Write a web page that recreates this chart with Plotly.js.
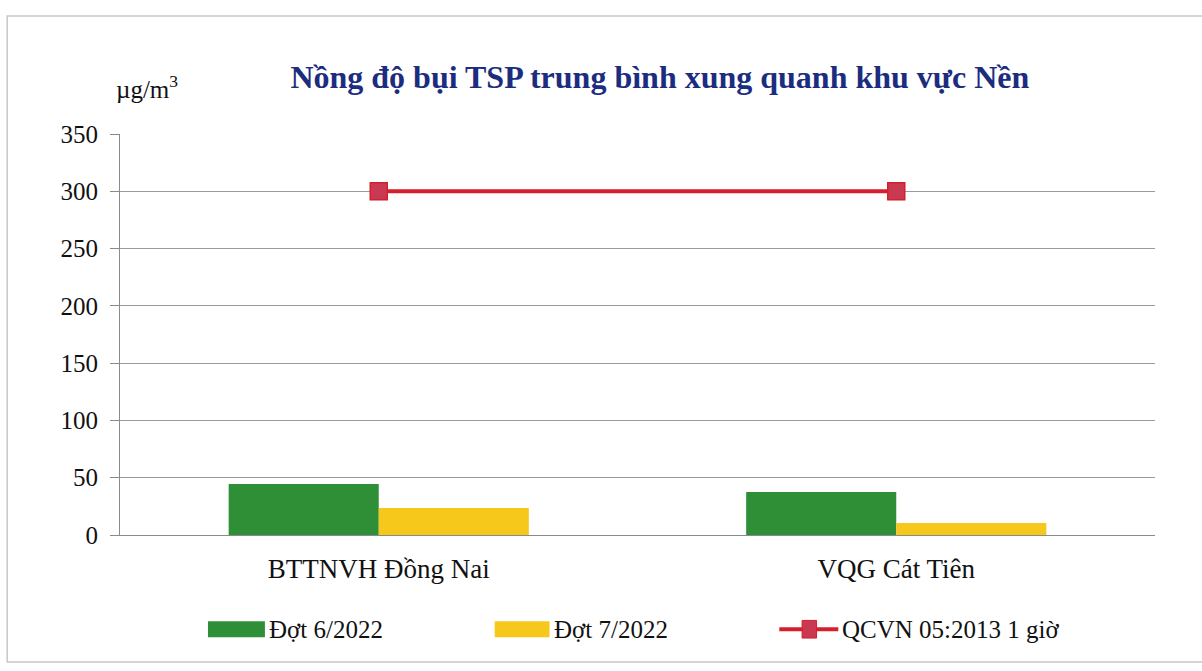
<!DOCTYPE html>
<html><head><meta charset="utf-8">
<script src="https://cdn.plot.ly/plotly-3.0.1.min.js"></script>
<style>body{margin:0;background:#fff}</style>
</head><body>
<div id="chart" style="width:1202px;height:671px"></div>
<script>
const categories = ["BTTNVH Đồng Nai", "VQG Cát Tiên"];
const dot6 = [44.5, 37.5];
const dot7 = [23.5, 10.5];
const qcvn = [300, 300];
const seriesNames = ["Đợt 6/2022", "Đợt 7/2022", "QCVN 05:2013 1 giờ"];
const yTicks = [0, 50, 100, 150, 200, 250, 300, 350];

const green = "#2f8f37", yellow = "#f7c81c", red = "#d61f2c";
const serif = "Liberation Serif";

const traces = [
  {type:"bar", x:categories, y:dot6, name:seriesNames[0], marker:{color:green}, showlegend:false},
  {type:"bar", x:categories, y:dot7, name:seriesNames[1], marker:{color:yellow}, showlegend:false},
  {type:"scatter", mode:"lines+markers", x:categories, y:qcvn, name:seriesNames[2],
   line:{color:red, width:4}, marker:{symbol:"square", size:17, color:"#c93a52", line:{color:"#d61f2c", width:1.5}}, showlegend:false}
];

const shapes = [
  {type:"rect", xref:"paper", yref:"paper", x0:-0.109, x1:1.1, y0:-0.317, y1:1.294, line:{color:"#c8c8c8", width:1.5}, fillcolor:"rgba(0,0,0,0)"},
  {type:"rect", xref:"paper", yref:"paper", x0:0.085, x1:0.14, y0:-0.255, y1:-0.215, line:{width:0}, fillcolor:green},
  {type:"rect", xref:"paper", yref:"paper", x0:0.362, x1:0.415, y0:-0.255, y1:-0.215, line:{width:0}, fillcolor:yellow},
  {type:"line", xref:"paper", yref:"paper", x0:0.637, x1:0.694, y0:-0.235, y1:-0.235, line:{color:red, width:4}},
  {type:"rect", xref:"paper", yref:"paper", x0:0.659, x1:0.673, y0:-0.257, y1:-0.213, line:{color:red, width:1}, fillcolor:"#c93a52"}
];
const txt = {family:serif, size:25, color:"#111"};
const annotations = [
  {text:"µg/m<sup>3</sup>", xref:"paper", yref:"paper", x:-0.006, y:1.118, xanchor:"left", yanchor:"middle", showarrow:false, font:txt},
  {text:seriesNames[0], xref:"paper", yref:"paper", x:0.142, y:-0.235, xanchor:"left", yanchor:"middle", showarrow:false, font:txt},
  {text:seriesNames[1], xref:"paper", yref:"paper", x:0.417, y:-0.235, xanchor:"left", yanchor:"middle", showarrow:false, font:txt},
  {text:seriesNames[2], xref:"paper", yref:"paper", x:0.696, y:-0.235, xanchor:"left", yanchor:"middle", showarrow:false, font:txt}
];

const layout = {
  width:1202, height:671,
  margin:{l:120, r:47, t:134, b:136},
  paper_bgcolor:"#fff", plot_bgcolor:"#fff",
  title:{text:"<b>Nồng độ bụi TSP trung bình xung quanh khu vực Nền</b>", font:{family:serif, size:32, color:"#1c2d80"}, x:0.549, xanchor:"center", y:0.885, yanchor:"middle"},
  barmode:"group", bargap:0.42, bargroupgap:0,
  xaxis:{type:"category", showgrid:false, showline:true, linecolor:"#8a8a8a", linewidth:1, ticks:"", tickfont:{family:serif, size:27, color:"#111"}, ticklabelstandoff:10, fixedrange:true},
  yaxis:{range:[0,350], tickvals:yTicks, ticktext:yTicks.map(String), showgrid:true, gridcolor:"#9a9a9a", gridwidth:1, showline:true, linecolor:"#8a8a8a", ticks:"outside", ticklen:9, tickcolor:"#8a8a8a", tickfont:{family:serif, size:25, color:"#111"}, ticklabelstandoff:7, zeroline:false, fixedrange:true},
  shapes:shapes, annotations:annotations, showlegend:false
};
Plotly.newPlot("chart", traces, layout, {displayModeBar:false, staticPlot:true});
</script>
</body></html>
